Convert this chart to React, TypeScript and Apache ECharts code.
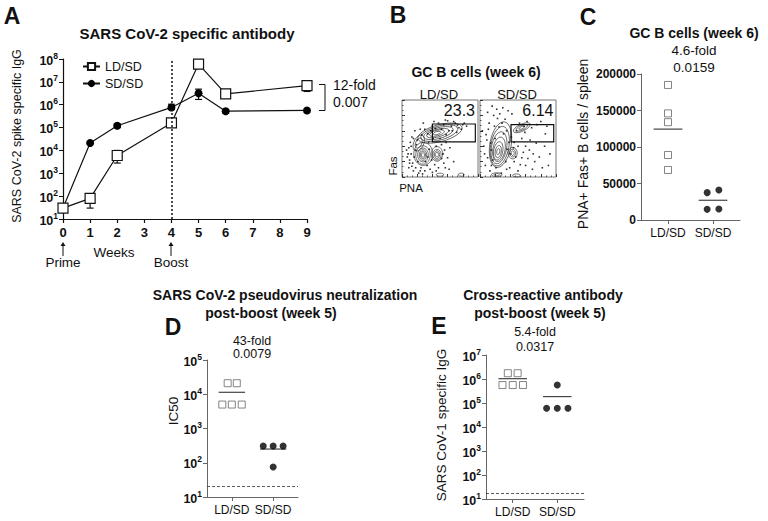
import React, { useEffect, useRef } from "react";
import * as echarts from "echarts";

const FONT = "'Liberation Sans', Arial, Helvetica, sans-serif";
const INK = "#111";
const GREY = "#666";

// ---------- Panel A: SARS CoV-2 spike specific IgG over time ----------
const weekTicks = [0, 1, 2, 3, 4, 5, 6, 7, 8, 9];
const sampleWeeks = [0, 1, 2, 4, 5, 6, 9];
const ldsdTiter = [30, 80, 6000, 160000, 60000000, 3000000, 6800000];
const sdsdTiter = [30, 21000, 120000, 760000, 3200000, 520000, 560000];
const ldsdErrWeeks = [1, 2, 9];
const ldsdErrLow = [30, 2800, 3800000];
const ldsdErrHigh = [110, 10000, 9000000];
const sdsdErrWeeks = [2, 4, 5, 6];
const sdsdErrLow = [100000, 640000, 1700000, 420000];
const sdsdErrHigh = [145000, 1050000, 4800000, 620000];
const boostWeek = 4;

// ---------- Panel B: flow plots (PNA x Fas, arbitrary 0-100 units) ----------
const gateLD = [40, 45.5, 96.5, 68.8];
const gateSD = [40.8, 45.5, 97, 68];
const gatePctLD = "23.3";
const gatePctSD = "6.14";
// [cx, cy, rx, ry, rotationDeg]
const contoursLD = [
  [27.6, 28.6, 2, 3, 0], [27.6, 28.6, 3.5, 5, 0], [27.6, 28.6, 5, 7, 0], [27.6, 28.6, 7, 9, 0], [27.6, 28.6, 9.5, 12, 0], [28, 30, 12.5, 15, 0],
  [46, 29, 2, 3, 0], [46, 29, 3.5, 5, 0], [46, 29, 5.5, 7, 0], [46, 30, 7.5, 9.5, 0],
  [22, 44, 4, 7, -25], [22, 44, 6.5, 11, -25],
  [46, 57, 5, 2, 15], [46, 57, 10, 3.5, 15], [47, 57, 15, 5, 15], [48, 57, 20, 7, 15], [49, 57, 25, 9, 15], [50, 57, 30, 11, 15],
  [50, 3, 5, 2, 0], [78, 3, 4, 2, 0],
];
const contoursSD = [
  [24, 33, 2, 4, -10], [24, 33, 4, 8, -10], [24, 34, 6, 12, -10], [25, 36, 8, 16, -10], [25, 38, 10, 21, -10], [26, 40, 12, 26, -10], [27, 42, 14, 30, -10],
  [43, 31, 2, 3, 0], [43, 31, 4, 5, 0], [43, 31, 6, 7.5, 0],
  [55, 64, 4, 1.5, 25], [55, 64, 8, 3, 25], [55, 64, 12, 4.5, 25],
  [22, 3, 7, 2.5, 0], [22, 3, 3.5, 1.5, 0], [48, 2, 5, 2, 0],
];
const dotsLD = [
  [8, 30], [10, 22], [12, 40], [14, 18], [9, 12], [15, 8], [18, 35], [20, 48], [13, 52], [22, 5], [25, 12], [30, 8],
  [33, 15], [35, 45], [38, 60], [30, 62], [26, 55], [42, 72], [48, 70], [55, 68], [60, 73], [65, 66], [70, 70],
  [75, 64], [80, 68], [85, 66], [62, 60], [58, 55], [50, 50], [52, 42], [56, 35], [60, 25], [55, 18], [48, 12],
  [40, 6], [62, 10], [68, 20], [45, 40], [36, 36], [17, 60], [11, 45], [6, 35], [28, 70], [44, 63], [72, 58],
  [7, 26], [9, 38], [12, 30], [13, 14], [16, 26], [18, 12], [19, 42], [21, 20], [24, 8], [27, 4], [31, 20], [34, 26],
  [37, 10], [39, 22], [41, 50], [43, 16], [45, 8], [52, 24], [54, 30], [57, 12], [58, 45], [63, 38], [66, 60],
  [68, 72], [73, 67], [78, 62], [82, 70], [57, 74], [52, 62], [40, 66], [34, 56], [24, 62], [15, 50], [10, 18],
];
const dotsSD = [
  [5, 40], [8, 55], [10, 25], [12, 70], [15, 15], [18, 80], [20, 50], [22, 88], [25, 65], [7, 15], [30, 90],
  [33, 75], [35, 10], [38, 45], [40, 30], [45, 20], [50, 8], [55, 25], [60, 15], [65, 35], [70, 30], [48, 60],
  [52, 70], [58, 66], [62, 72], [68, 64], [75, 68], [80, 72], [88, 66], [55, 50], [45, 45], [28, 5], [15, 35],
  [3, 60], [42, 82], [60, 40], [72, 20], [85, 40], [90, 15], [35, 60],
  [6, 30], [9, 48], [11, 62], [13, 8], [14, 44], [17, 22], [19, 66], [21, 12], [23, 76], [26, 82], [29, 70],
  [31, 56], [34, 20], [36, 36], [39, 12], [41, 52], [44, 38], [47, 26], [50, 40], [53, 16], [57, 32], [59, 58],
  [63, 24], [66, 48], [69, 10], [74, 44], [78, 26], [82, 12], [86, 56], [92, 30], [10, 84], [16, 92], [37, 86],
];

// ---------- Panel C: GC B cells per spleen ----------
const groupLabels = ["LD/SD", "SD/SD"];
const gcTickStep = 50000;
const gcMax = 200000;
const gcLD = [185000, 146000, 134000, 89000, 68500];
const gcLDx = [1, 1, 1, 1, 1];
const gcSD = [37500, 41000, 14600, 15000];
const gcSDx = [1.87, 2.13, 1.87, 2.13];

// ---------- Panel D: pseudovirus neutralization IC50 ----------
const ic50LD = [21000, 21000, 5000, 5000, 5000];
const ic50LDx = [0.9, 1.12, 0.77, 1.0, 1.24];
const ic50SD = [310, 310, 310, 75];
const ic50SDx = [1.76, 2.0, 2.24, 2.0];
const ic50Limit = 20;

// ---------- Panel E: SARS CoV-1 specific IgG ----------
const cov1LD = [1740000, 1740000, 560000, 560000, 560000];
const cov1LDx = [0.89, 1.11, 0.77, 1.0, 1.23];
const cov1SD = [560000, 60000, 60000, 60000];
const cov1SDx = [2.0, 1.76, 2.0, 2.24];
const cov1Limit = 18;

const mean = (a: number[]) => a.reduce((s, v) => s + v, 0) / a.length;

const logRich = {
  b: { fontSize: 12.5, fontWeight: "bold", fontFamily: FONT, color: INK, lineHeight: 16, verticalAlign: "bottom" },
  s: { fontSize: 8.5, fontWeight: "bold", fontFamily: FONT, color: INK, lineHeight: 16, verticalAlign: "top" },
};
const logLabel = (v: number) => `{b|10}{s|${Math.round(Math.log10(v))}}`;

function txt(text: string, x: number, y: number, size: number, o: any = {}) {
  return {
    type: "text",
    x,
    y,
    rotation: o.rot || 0,
    silent: true,
    style: {
      text,
      fontSize: size,
      fontWeight: o.bold ? "bold" : "normal",
      fontFamily: FONT,
      fill: INK,
      textAlign: o.align || "center",
      align: o.align || "center",
      textVerticalAlign: "middle",
      verticalAlign: "middle",
    },
  };
}

function arrow(x: number, y1: number, y2: number) {
  return [
    { type: "line", silent: true, shape: { x1: x, y1, x2: x, y2: y2 + 3 }, style: { stroke: INK, lineWidth: 1 } },
    { type: "polygon", silent: true, shape: { points: [[x - 2.5, y2 + 4], [x, y2], [x + 2.5, y2 + 4]] }, style: { fill: INK } },
  ];
}

const errorRender = (params: any, api: any) => {
  const x = api.value(0);
  const pLo = api.coord([x, api.value(1)]);
  const pHi = api.coord([x, api.value(2)]);
  const cap = 3.5;
  const st = { stroke: INK, lineWidth: 1.2 };
  return {
    type: "group",
    children: [
      { type: "line", shape: { x1: pLo[0], y1: pLo[1], x2: pHi[0], y2: pHi[1] }, style: st },
      { type: "line", shape: { x1: pLo[0] - cap, y1: pLo[1], x2: pLo[0] + cap, y2: pLo[1] }, style: st },
      { type: "line", shape: { x1: pHi[0] - cap, y1: pHi[1], x2: pHi[0] + cap, y2: pHi[1] }, style: st },
    ],
  };
};

const meanRender = (params: any, api: any) => {
  const x = api.value(0);
  const m = api.value(1);
  const p1 = api.coord([x - 0.32, m]);
  const p2 = api.coord([x + 0.32, m]);
  return { type: "line", shape: { x1: p1[0], y1: p1[1], x2: p2[0], y2: p2[1] }, style: { stroke: "#444", lineWidth: 1.2 } };
};

const contourRender = (params: any, api: any) => {
  const c = api.coord([api.value(0), api.value(1)]);
  const s = api.size([api.value(2), api.value(3)]);
  return {
    type: "ellipse",
    x: c[0],
    y: c[1],
    rotation: (api.value(4) * Math.PI) / 180,
    shape: { cx: 0, cy: 0, rx: s[0], ry: s[1] },
    style: { fill: "none", stroke: "#3a3a3a", lineWidth: 0.7 },
  };
};

const gateRender = (params: any, api: any) => {
  const a = api.coord([api.value(0), api.value(3)]);
  const b = api.coord([api.value(2), api.value(1)]);
  return { type: "rect", shape: { x: a[0], y: a[1], width: b[0] - a[0], height: b[1] - a[1] }, style: { fill: "none", stroke: INK, lineWidth: 1.2 } };
};

const zip = (xs: number[], ys: number[]) => xs.map((x, i) => [x, ys[i]]);
const zip3 = (xs: number[], a: number[], b: number[]) => xs.map((x, i) => [x, a[i], b[i]]);

function groupAxisX(gridIndex: number) {
  return {
    gridIndex,
    type: "value",
    min: 0.4,
    max: 2.6,
    axisLine: { lineStyle: { color: GREY, width: 1 } },
    axisTick: { length: 4, customValues: [1, 2], lineStyle: { color: GREY } },
    axisLabel: {
      customValues: [1, 2],
      formatter: (v: number) => groupLabels[Math.round(v) - 1] || "",
      fontSize: 12,
      fontFamily: FONT,
      color: INK,
      margin: 7,
    },
    splitLine: { show: false },
  };
}

function logAxisY(gridIndex: number, max: number, color: string) {
  return {
    gridIndex,
    type: "log",
    logBase: 10,
    min: 10,
    max,
    axisLine: { show: true, lineStyle: { color, width: color === INK ? 1.2 : 1 } },
    axisTick: { show: true, length: 4, lineStyle: { color } },
    axisLabel: { formatter: logLabel, rich: logRich, margin: 5 },
    splitLine: { show: false },
    minorTick: { show: false },
  };
}

function flowAxes(gridIndex: number) {
  return {
    gridIndex,
    type: "value",
    min: 0,
    max: 100,
    interval: 20,
    axisLine: { show: false },
    axisTick: { show: true, inside: true, length: 3, lineStyle: { color: "#333" } },
    minorTick: { show: true, splitNumber: 3, length: 1.5, lineStyle: { color: "#555" } },
    axisLabel: { show: false },
    splitLine: { show: false },
  };
}

function buildOption() {
  const scatterLD = (name: string, idx: number, xs: number[], ys: number[]) => ({
    name,
    type: "scatter",
    xAxisIndex: idx,
    yAxisIndex: idx,
    symbol: "rect",
    symbolSize: 7,
    itemStyle: { color: "#fff", borderColor: GREY, borderWidth: 1 },
    data: zip(xs, ys),
    z: 3,
  });
  const scatterSD = (name: string, idx: number, xs: number[], ys: number[]) => ({
    name,
    type: "scatter",
    xAxisIndex: idx,
    yAxisIndex: idx,
    symbol: "circle",
    symbolSize: 7,
    itemStyle: { color: "#000" },
    data: zip(xs, ys),
    z: 3,
  });
  const meanSeries = (name: string, idx: number, lds: number[], sds: number[]) => ({
    name,
    type: "custom",
    xAxisIndex: idx,
    yAxisIndex: idx,
    renderItem: meanRender,
    encode: { x: 0, y: 1 },
    data: [[1, mean(lds)], [2, mean(sds)]],
    z: 2,
  });
  const limitLine = (v: number) => ({
    silent: true,
    symbol: "none",
    label: { show: false },
    lineStyle: { type: [3, 2], color: "#333", width: 0.8 },
    data: [{ yAxis: v }],
  });

  const graphic: any[] = [
    txt("A", 12, 16, 23, { bold: true }),
    txt("SARS CoV-2 specific antibody", 187, 33, 15, { bold: true }),
    txt("SARS CoV-2 spike specific IgG", 17, 136, 12.5, { rot: Math.PI / 2 }),
    txt("Weeks", 114, 252, 13.5),
    txt("Prime", 63, 262, 13.5),
    txt("Boost", 171, 262, 13.5),
    ...arrow(63, 256, 242),
    ...arrow(171, 256, 242),
    { type: "polyline", silent: true, shape: { points: [[319, 84.5], [325, 84.5], [325, 110.5], [319, 110.5]] }, style: { stroke: INK, lineWidth: 1, fill: "none" } },
    txt("12-fold", 333, 85, 14, { align: "left" }),
    txt("0.007", 333, 102, 14, { align: "left" }),

    txt("B", 398, 15, 23, { bold: true }),
    txt("GC B cells (week 6)", 476, 72, 14, { bold: true }),
    txt("LD/SD", 439, 94, 13),
    txt("SD/SD", 517, 94, 13),
    txt(gatePctLD, 475, 110.5, 16, { align: "right" }),
    txt(gatePctSD, 553.5, 110.5, 16, { align: "right" }),
    txt("Fas", 393, 166, 11.5, { rot: Math.PI / 2 }),
    txt("PNA", 411, 188, 11.5),

    txt("C", 588, 17, 23, { bold: true }),
    txt("GC B cells (week 6)", 694, 33, 14, { bold: true }),
    txt("4.6-fold", 694, 50, 13.5),
    txt("0.0159", 694, 67, 13.5),
    txt("PNA+ Fas+ B cells / spleen", 583, 144, 14, { rot: Math.PI / 2 }),

    txt("SARS CoV-2 pseudovirus neutralization", 285, 295, 14, { bold: true }),
    txt("post-boost (week 5)", 271, 313, 14, { bold: true }),
    txt("D", 173, 327, 23, { bold: true }),
    txt("43-fold", 252, 341, 12.5),
    txt("0.0079", 252, 354, 12.5),
    txt("IC50", 173, 411, 13.5, { rot: Math.PI / 2 }),

    txt("Cross-reactive antibody", 543, 295, 14, { bold: true }),
    txt("post-boost (week 5)", 540, 313, 14, { bold: true }),
    txt("E", 439, 326, 23, { bold: true }),
    txt("5.4-fold", 535, 332, 12.5),
    txt("0.0317", 535, 347, 12.5),
    txt("SARS CoV-1 specific IgG", 441, 425, 13.5, { rot: Math.PI / 2 }),
  ];

  return {
    animation: false,
    backgroundColor: "#fff",
    textStyle: { fontFamily: FONT },
    legend: {
      data: ["LD/SD", "SD/SD"],
      orient: "vertical",
      left: 77,
      top: 55,
      itemWidth: 17,
      itemHeight: 9,
      itemGap: 4,
      selectedMode: false,
      textStyle: { fontSize: 12.5, fontFamily: FONT, color: INK },
    },
    grid: [
      { left: 63, top: 59, width: 244, height: 160 },
      { left: 402, top: 100, width: 76, height: 77, show: true, borderColor: "#777", borderWidth: 1, backgroundColor: "transparent" },
      { left: 480, top: 100, width: 76, height: 77, show: true, borderColor: "#777", borderWidth: 1, backgroundColor: "transparent" },
      { left: 641, top: 74, width: 99, height: 146 },
      { left: 207, top: 360, width: 91, height: 137 },
      { left: 486, top: 355, width: 98, height: 144 },
    ],
    xAxis: [
      {
        gridIndex: 0,
        type: "value",
        min: weekTicks[0],
        max: weekTicks[weekTicks.length - 1],
        interval: 1,
        axisLine: { lineStyle: { color: INK, width: 1.2 } },
        axisTick: { length: 4, lineStyle: { color: INK, width: 1.2 } },
        axisLabel: { fontSize: 13, fontWeight: "bold", fontFamily: FONT, color: INK, margin: 7 },
        splitLine: { show: false },
      },
      flowAxes(1),
      flowAxes(2),
      groupAxisX(3),
      groupAxisX(4),
      groupAxisX(5),
    ],
    yAxis: [
      logAxisY(0, 1e8, INK),
      flowAxes(1),
      flowAxes(2),
      {
        gridIndex: 3,
        type: "value",
        min: 0,
        max: gcMax,
        interval: gcTickStep,
        axisLine: { show: true, lineStyle: { color: GREY } },
        axisTick: { show: true, length: 4, lineStyle: { color: GREY } },
        axisLabel: { formatter: (v: number) => String(v), fontSize: 12, fontWeight: "bold", fontFamily: FONT, color: INK, margin: 5 },
        splitLine: { show: false },
      },
      logAxisY(4, 1e5, GREY),
      logAxisY(5, 1e7, GREY),
    ],
    graphic,
    series: [
      // Panel A
      {
        name: "err-sd",
        type: "custom",
        xAxisIndex: 0,
        yAxisIndex: 0,
        renderItem: errorRender,
        encode: { x: 0, y: [1, 2] },
        data: zip3(sdsdErrWeeks, sdsdErrLow, sdsdErrHigh),
        z: 1,
      },
      {
        name: "err-ld",
        type: "custom",
        xAxisIndex: 0,
        yAxisIndex: 0,
        renderItem: errorRender,
        encode: { x: 0, y: [1, 2] },
        data: zip3(ldsdErrWeeks, ldsdErrLow, ldsdErrHigh),
        z: 1,
      },
      {
        name: "SD/SD",
        type: "line",
        xAxisIndex: 0,
        yAxisIndex: 0,
        symbol: "circle",
        symbolSize: 8,
        showSymbol: true,
        lineStyle: { color: INK, width: 1.2 },
        itemStyle: { color: "#000" },
        data: zip(sampleWeeks, sdsdTiter),
        markLine: {
          silent: true,
          symbol: "none",
          label: { show: false },
          lineStyle: { type: [2, 2], color: INK, width: 1.5 },
          data: [{ xAxis: boostWeek }],
        },
        z: 3,
      },
      {
        name: "LD/SD",
        type: "line",
        xAxisIndex: 0,
        yAxisIndex: 0,
        symbol: "rect",
        symbolSize: 10,
        showSymbol: true,
        lineStyle: { color: INK, width: 1.2 },
        itemStyle: { color: "#fff", borderColor: INK, borderWidth: 1.2 },
        data: zip(sampleWeeks, ldsdTiter),
        z: 4,
      },
      // Panel B
      { name: "contourLD", type: "custom", xAxisIndex: 1, yAxisIndex: 1, renderItem: contourRender, encode: { x: 0, y: 1 }, data: contoursLD },
      { name: "contourSD", type: "custom", xAxisIndex: 2, yAxisIndex: 2, renderItem: contourRender, encode: { x: 0, y: 1 }, data: contoursSD },
      { name: "dotsLD", type: "scatter", xAxisIndex: 1, yAxisIndex: 1, symbol: "rect", symbolSize: 1.6, itemStyle: { color: "#000" }, data: dotsLD },
      { name: "dotsSD", type: "scatter", xAxisIndex: 2, yAxisIndex: 2, symbol: "rect", symbolSize: 1.6, itemStyle: { color: "#000" }, data: dotsSD },
      { name: "gateLD", type: "custom", xAxisIndex: 1, yAxisIndex: 1, renderItem: gateRender, encode: { x: [0, 2], y: [1, 3] }, data: [gateLD], z: 5 },
      { name: "gateSD", type: "custom", xAxisIndex: 2, yAxisIndex: 2, renderItem: gateRender, encode: { x: [0, 2], y: [1, 3] }, data: [gateSD], z: 5 },
      // Panel C
      scatterLD("C-LD", 3, gcLDx, gcLD),
      scatterSD("C-SD", 3, gcSDx, gcSD),
      meanSeries("C-mean", 3, gcLD, gcSD),
      // Panel D
      { ...scatterLD("D-LD", 4, ic50LDx, ic50LD), markLine: limitLine(ic50Limit) },
      scatterSD("D-SD", 4, ic50SDx, ic50SD),
      meanSeries("D-mean", 4, ic50LD, ic50SD),
      // Panel E
      { ...scatterLD("E-LD", 5, cov1LDx, cov1LD), markLine: limitLine(cov1Limit) },
      scatterSD("E-SD", 5, cov1SDx, cov1SD),
      meanSeries("E-mean", 5, cov1LD, cov1SD),
    ],
  };
}

export default function App() {
  const ref = useRef<HTMLDivElement>(null);
  useEffect(() => {
    const chart = echarts.init(ref.current!, null, { renderer: "svg" });
    chart.setOption(buildOption() as any);
    return () => chart.dispose();
  }, []);
  return (
    <div
      ref={ref}
      style={{ position: "absolute", left: 0, top: 0, width: 768, height: 521, background: "#fff" }}
    />
  );
}
